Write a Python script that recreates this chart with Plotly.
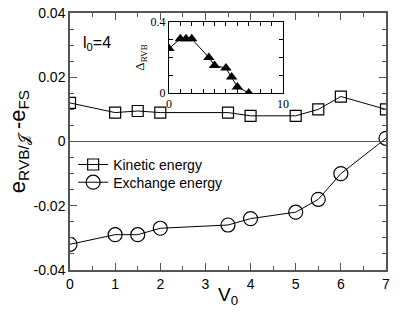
import plotly.graph_objects as go

v0 = [0, 1, 1.5, 2, 3.5, 4, 5, 5.5, 6, 7]
kinetic = [0.012, 0.009, 0.0095, 0.009, 0.009, 0.008, 0.008, 0.010, 0.014, 0.010]
exchange = [-0.032, -0.029, -0.029, -0.027, -0.026, -0.024, -0.022, -0.018, -0.010, 0.001]
delta_rvb = [0.25, 0.305, 0.305, 0.305, 0.2, 0.155, 0.14, 0.09, 0.034, 0.0]
y_ticks = [-0.04, -0.02, 0, 0.02, 0.04]
y_labels = ["-0.04", "-0.02", "0", "0.02", "0.04"]
x_ticks = [0, 1, 2, 3, 4, 5, 6, 7]
x_labels = ["0", "1", "2", "3", "4", "5", "6", "7"]
inset_x_ticks = [0, 10]
inset_x_labels = ["0", "10"]
inset_y_ticks = [0, 0.4]
inset_y_labels = ["0", "0.4"]

serif = "Liberation Serif, Times New Roman, serif"

fig = go.Figure()
fig.add_trace(go.Scatter(x=v0, y=kinetic, mode="lines+markers", name="Kinetic energy", legend="legend",
                         line=dict(color="black", width=1),
                         marker=dict(symbol="square-open", size=11, color="black", line=dict(width=1.2))))
fig.add_trace(go.Scatter(x=v0, y=exchange, mode="lines+markers", name="Exchange energy", legend="legend2",
                         line=dict(color="black", width=1),
                         marker=dict(symbol="circle-open", size=14, color="black", line=dict(width=1.2))))
fig.add_trace(go.Scatter(x=v0, y=delta_rvb, mode="lines+markers", showlegend=False,
                         xaxis="x2", yaxis="y2",
                         line=dict(color="black", width=1),
                         marker=dict(symbol="triangle-up", size=10, color="black")))

axcol = "#555555"
leg_common = dict(x=0.01, xanchor="left", yanchor="middle", bgcolor="rgba(0,0,0,0)",
                  font=dict(size=14, color="black"), itemwidth=30)
fig.update_layout(
    width=415, height=316,
    margin=dict(l=70, r=29, t=13, b=46, autoexpand=False),
    paper_bgcolor="white", plot_bgcolor="white",
    font=dict(family="Liberation Sans, Arial, sans-serif", color="black", size=14),
    showlegend=True,
    legend=dict(y=0.409, **leg_common),
    legend2=dict(y=0.340, **leg_common),
    xaxis=dict(range=[0, 7], tickvals=x_ticks, ticktext=x_labels, ticks="inside", ticklen=7, tickcolor=axcol,
               showline=True, linecolor=axcol, linewidth=1.5, mirror="allticks",
               showgrid=False, zeroline=False, automargin=False,
               minor=dict(dtick=0.5, ticks="inside", ticklen=4, tickcolor=axcol),
               tickfont=dict(size=14, color="black")),
    yaxis=dict(range=[-0.04, 0.04], tickvals=y_ticks, ticktext=y_labels, ticks="inside", ticklen=7, tickcolor=axcol,
               showline=True, linecolor=axcol, linewidth=1.5, mirror="allticks",
               showgrid=False, zeroline=True, zerolinecolor=axcol, zerolinewidth=1, automargin=False,
               minor=dict(dtick=0.005, ticks="inside", ticklen=4, tickcolor=axcol),
               title=dict(text="e<sub>RVB/𝒥</sub> -e<sub>FS</sub>", font=dict(size=22), standoff=2),
               tickfont=dict(size=14, color="black")),
    xaxis2=dict(domain=[0.313, 0.674], anchor="y2", range=[0, 10], tickvals=inset_x_ticks, ticktext=inset_x_labels,
                ticks="inside", ticklen=4, tickcolor="black", automargin=False,
                showline=True, linecolor="black", linewidth=1, mirror="allticks",
                showgrid=False, zeroline=False,
                minor=dict(dtick=1, ticks="inside", ticklen=4, tickcolor="black"),
                tickfont=dict(family=serif, size=12, color="black")),
    yaxis2=dict(domain=[0.689, 0.965], anchor="x2", range=[0, 0.4], tickvals=inset_y_ticks, ticktext=inset_y_labels,
                ticks="inside", ticklen=4, tickcolor="black", automargin=False,
                showline=True, linecolor="black", linewidth=1, mirror="allticks",
                showgrid=False, zeroline=False,
                minor=dict(dtick=0.1, ticks="inside", ticklen=4, tickcolor="black"),
                title=dict(text="Δ<sub>RVB</sub>", font=dict(family=serif, size=13, color="black"), standoff=2),
                tickfont=dict(family=serif, size=12, color="black")),
    annotations=[
        dict(text="l<sub>0</sub>=4", x=0.035, y=0.88, xref="paper", yref="paper",
             xanchor="left", yanchor="middle", showarrow=False, font=dict(size=16, color="black")),
        dict(text="V<sub>0</sub>", x=0.5, y=(270 - 296) / 257, xref="paper", yref="paper",
             yanchor="middle", showarrow=False, font=dict(size=19, color="black")),
    ],
)

fig.write_html("out.html", config={"displayModeBar": False},
               post_script="document.body.style.margin='0px';document.body.style.padding='0px';")
